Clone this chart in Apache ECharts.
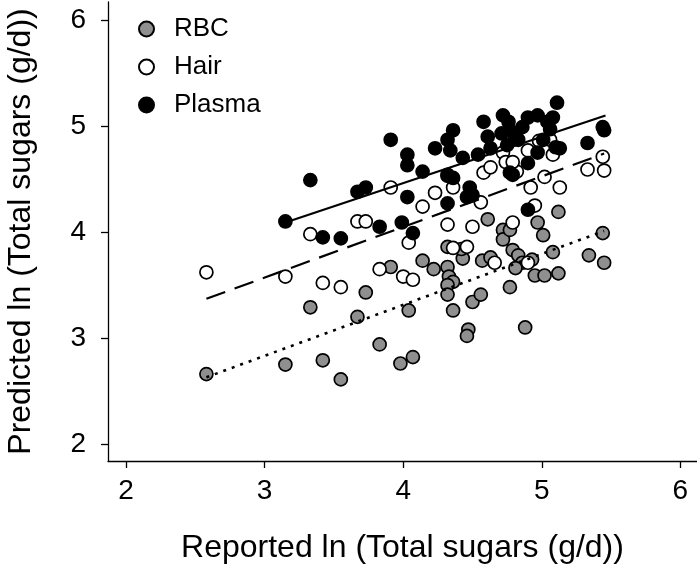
<!DOCTYPE html>
<html>
<head>
<meta charset="utf-8">
<script src="https://cdn.jsdelivr.net/npm/echarts@6/dist/echarts.min.js"></script>
<style>
html,body{margin:0;padding:0;background:#fff;}
#chart{width:697px;height:572px;}
</style>
</head>
<body>
<div id="chart"></div>
<script>
// ---- Data (x = reported ln total sugars, y = predicted ln total sugars) ----
const seriesNames = ['RBC', 'Hair', 'Plasma'];
const xTicks = [2, 3, 4, 5, 6];
const yTicks = [2, 3, 4, 5, 6];

const rbcPoints = [
  [2.58,2.66],[3.15,2.75],[3.33,3.29],[3.42,2.79],[3.55,2.61],[3.67,3.20],[3.73,3.43],
  [3.83,2.94],[3.91,3.67],[3.98,2.76],[4.07,2.82],[4.04,3.26],[4.14,3.73],[4.22,3.65],
  [4.32,3.67],[4.33,3.58],[4.36,3.53],[4.32,3.50],[4.32,3.41],[4.36,3.26],[4.43,3.75],
  [4.57,3.73],[4.63,3.76],[4.50,3.34],[4.56,3.41],[4.47,3.08],[4.46,3.02],[4.72,4.02],
  [4.72,3.93],[4.77,4.02],[4.79,3.83],[4.83,3.78],[4.86,3.71],[4.81,3.66],[4.77,3.48],
  [4.88,3.10],[4.93,3.74],[4.95,3.59],[5.02,3.59],[5.12,3.61],[5.01,3.97],[5.08,3.81],
  [5.12,4.19],[5.44,3.99],[5.34,3.78],[5.45,3.71],[4.61,4.12],[4.97,4.09],[4.32,3.86],
  [4.42,3.84]
];

const hairPoints = [
  [2.58,3.62],[3.15,3.58],[3.33,3.98],[3.42,3.52],[3.55,3.48],[3.67,4.10],[3.73,4.10],
  [3.83,3.65],[3.91,4.42],[4.00,3.58],[4.07,3.55],[4.04,3.90],[4.14,4.24],[4.23,4.37],
  [4.32,4.54],[4.36,4.42],[4.32,4.07],[4.36,3.85],[4.46,3.86],[4.50,4.05],[4.56,4.28],
  [4.58,4.56],[4.63,4.61],[4.72,4.75],[4.74,4.66],[4.82,4.57],[4.79,4.66],[4.90,4.77],
  [4.92,4.42],[4.95,4.25],[4.79,4.09],[5.02,4.52],[5.08,4.73],[5.13,4.42],[5.44,4.71],
  [5.33,4.59],[5.45,4.58],[4.90,3.71],[4.66,3.71],[4.98,4.86],[5.06,4.87]
];

const plasmaPoints = [
  [3.15,4.10],[3.33,4.49],[3.42,3.95],[3.55,3.94],[3.67,4.38],[3.73,4.42],[3.83,4.05],
  [3.91,4.87],[3.99,4.09],[4.03,4.73],[4.03,4.63],[4.03,4.33],[4.07,3.99],[4.14,4.57],
  [4.23,4.79],[4.32,4.87],[4.36,4.96],[4.34,4.77],[4.32,4.53],[4.36,4.51],[4.32,4.27],
  [4.43,4.70],[4.48,4.42],[4.46,4.33],[4.50,4.35],[4.54,4.73],[4.58,5.04],[4.61,4.90],
  [4.63,4.79],[4.72,5.10],[4.76,5.04],[4.71,4.93],[4.79,4.94],[4.83,4.87],[4.75,4.82],
  [4.86,4.99],[4.77,4.56],[4.79,4.54],[4.90,5.08],[4.97,5.10],[5.04,5.04],[5.08,5.08],
  [5.11,5.22],[4.90,4.65],[4.97,4.75],[5.01,4.87],[5.10,4.80],[4.90,4.21],[5.13,4.79],
  [5.33,4.84],[5.44,4.99],[5.45,4.96],[5.06,4.97]
];

// fitted lines (endpoints)
const rbcFit = [[2.58,2.63],[5.45,4.01]];
const hairFit = [[2.58,3.37],[5.45,4.74]];
const plasmaFit = [[3.15,4.09],[5.46,5.10]];

// ---- Chart ----
const FONT = '"Liberation Sans", Arial, Helvetica, sans-serif';
const chart = echarts.init(document.getElementById('chart'), null, {renderer: 'canvas'});

function scatter(name, data, color) {
  return {
    name: name, type: 'scatter', data: data,
    symbol: 'circle', symbolSize: 13,
    itemStyle: {color: color, borderColor: '#000', borderWidth: 1.7, opacity: 1},
    emphasis: {disabled: true}, z: 2
  };
}
function fit(data, type, width) {
  return {
    type: 'line', data: data, symbol: 'none', silent: true,
    lineStyle: {color: '#000', width: width, type: type},
    z: 3, legendHoverLink: false
  };
}

chart.setOption({
  animation: false,
  backgroundColor: '#fff',
  textStyle: {fontFamily: FONT},
  grid: {left: 108, right: 0, top: 2, bottom: 111, containLabel: false, outerBoundsMode: 'none'},
  legend: {
    orient: 'vertical', left: 133, top: 11, itemGap: 12,
    itemWidth: 15, itemHeight: 15,
    data: seriesNames.map(n => ({name: n, icon: 'circle'})),
    textStyle: {fontFamily: FONT, fontSize: 26, color: '#000', padding: [0, 0, 0, 15]},
    selectedMode: false
  },
  xAxis: {
    type: 'value', min: 1.87, max: 6.12,
    name: 'Reported ln (Total sugars (g/d))', nameLocation: 'middle', nameGap: 71,
    nameTextStyle: {fontFamily: FONT, fontSize: 32, color: '#000'},
    axisLine: {show: true, onZero: false, lineStyle: {color: '#000', width: 1.3}},
    axisTick: {show: true, inside: false, length: 7, customValues: xTicks, lineStyle: {color: '#000', width: 1.3}},
    axisLabel: {customValues: xTicks, fontFamily: FONT, fontSize: 28, color: '#000', margin: 16},
    splitLine: {show: false}
  },
  yAxis: {
    type: 'value', min: 1.84, max: 6.17,
    name: 'Predicted ln (Total sugars (g/d))', nameLocation: 'middle', nameGap: 71,
    nameTextStyle: {fontFamily: FONT, fontSize: 32, color: '#000'},
    axisLine: {show: true, onZero: false, lineStyle: {color: '#000', width: 1.3}},
    axisTick: {show: true, inside: false, length: 7, customValues: yTicks, lineStyle: {color: '#000', width: 1.3}},
    axisLabel: {customValues: yTicks, fontFamily: FONT, fontSize: 28, color: '#000', margin: 22},
    splitLine: {show: false}
  },
  series: [
    scatter(seriesNames[0], rbcPoints, '#8f8f8f'),
    scatter(seriesNames[1], hairPoints, '#ffffff'),
    scatter(seriesNames[2], plasmaPoints, '#000000'),
    fit(rbcFit, [3, 6], 2.6),
    fit(hairFit, [20, 10], 2.2),
    fit(plasmaFit, 'solid', 2.2)
  ]
});
</script>
</body>
</html>
